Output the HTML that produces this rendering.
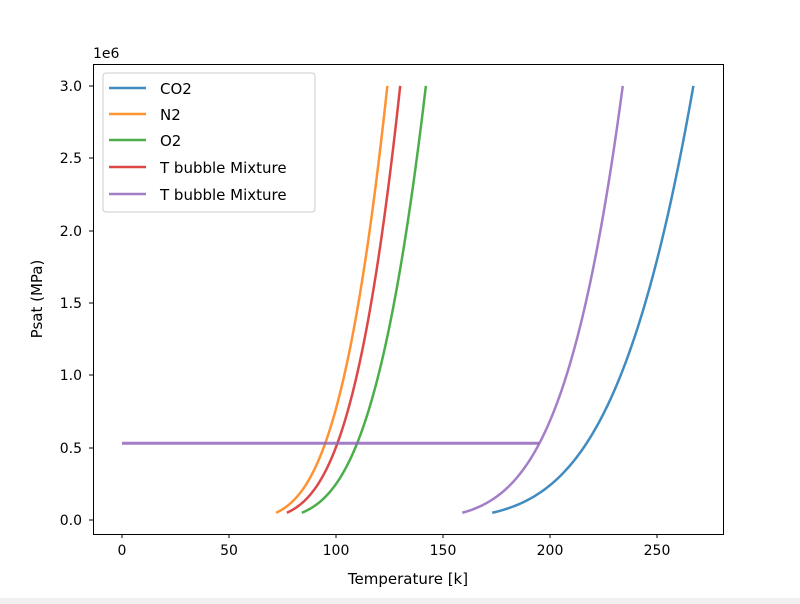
<!DOCTYPE html>
<html><head><meta charset="utf-8"><style>
html,body{margin:0;padding:0;background:#fff;}
svg{display:block;font-family:"DejaVu Sans","Liberation Sans",sans-serif;}
</style></head><body>
<svg id="s" width="800" height="604" viewBox="0 0 800 604" xmlns="http://www.w3.org/2000/svg">
<rect x="0" y="0" width="800" height="604" fill="#fff"/>
<rect x="0" y="598" width="800" height="6" fill="#f0f0f0"/>
<g id="plot"></g>
<rect x="93.5" y="64.5" width="630" height="470" fill="none" stroke="#000" stroke-width="1"/>
<g font-size="14" fill="#000" text-anchor="middle">
<text x="122" y="555">0</text><text x="229" y="555">50</text><text x="336" y="555">100</text>
<text x="443" y="555">150</text><text x="550" y="555">200</text><text x="657" y="555">250</text>
<text x="408" y="584" font-size="15">Temperature [k]</text>
</g>
<g font-size="14" fill="#000" text-anchor="end">
<text x="82" y="525">0.0</text><text x="82" y="453">0.5</text><text x="82" y="380">1.0</text>
<text x="82" y="308">1.5</text><text x="82" y="236">2.0</text><text x="82" y="163">2.5</text><text x="82" y="91">3.0</text>
</g>
<text x="93" y="58" font-size="14">1e6</text>
<text transform="translate(42,299) rotate(-90)" font-size="15" text-anchor="middle">Psat (MPa)</text>
<g stroke="#000" stroke-width="1">
<line x1="122" y1="534" x2="122" y2="538"/><line x1="229" y1="534" x2="229" y2="538"/><line x1="336" y1="534" x2="336" y2="538"/>
<line x1="443" y1="534" x2="443" y2="538"/><line x1="550" y1="534" x2="550" y2="538"/><line x1="657" y1="534" x2="657" y2="538"/>
<line x1="89" y1="520" x2="93" y2="520"/><line x1="89" y1="448" x2="93" y2="448"/><line x1="89" y1="375" x2="93" y2="375"/>
<line x1="89" y1="303" x2="93" y2="303"/><line x1="89" y1="231" x2="93" y2="231"/><line x1="89" y1="158" x2="93" y2="158"/><line x1="89" y1="86" x2="93" y2="86"/>
</g>
<rect x="103" y="73" width="212" height="139" rx="3" fill="#fff" fill-opacity="0.8" stroke="#ccc"/>
<g stroke-width="2.5" opacity="0.85">
<line x1="109" y1="88" x2="146" y2="88" stroke="#1f77b4"/>
<line x1="109" y1="114" x2="146" y2="114" stroke="#ff7f0e"/>
<line x1="109" y1="140" x2="146" y2="140" stroke="#2ca02c"/>
<line x1="109" y1="167" x2="146" y2="167" stroke="#d62728"/>
<line x1="109" y1="194" x2="146" y2="194" stroke="#9467bd"/>
</g>
<g font-size="15" fill="#000">
<text x="160" y="94">CO2</text><text x="160" y="120">N2</text><text x="160" y="146">O2</text>
<text x="160" y="173">T bubble Mixture</text><text x="160" y="200">T bubble Mixture</text>
</g>
</svg>
<script>
(function(){
var X=function(t){return 122+t*2.14;}, Y=function(p){return 520-p*144.7;};
var g=document.getElementById('plot'),ns='http://www.w3.org/2000/svg';
function curve(t1,t2,c){
 var B=Math.log(60)/(1/t1-1/t2),d='';
 for(var i=0;i<=80;i++){var p=0.05*Math.pow(60,i/80);var invT=1/t1-Math.log(p/0.05)/B;var t=1/invT;
 d+=(i?'L':'M')+X(t).toFixed(2)+','+Y(p).toFixed(2);}
 var e=document.createElementNS(ns,'path');e.setAttribute('d',d);e.setAttribute('fill','none');
 e.setAttribute('stroke',c);e.setAttribute('stroke-width','2.5');e.setAttribute('opacity','0.85');g.appendChild(e);}
curve(173,267,'#1f77b4');curve(72,124,'#ff7f0e');curve(84,142,'#2ca02c');curve(77,130,'#d62728');curve(159,234,'#9467bd');
var l=document.createElementNS(ns,'line');l.setAttribute('x1',X(0));l.setAttribute('x2',X(195));
l.setAttribute('y1',Y(0.53));l.setAttribute('y2',Y(0.53));l.setAttribute('stroke','#9467bd');l.setAttribute('stroke-width','3');l.setAttribute('opacity','0.85');g.appendChild(l);
})();
</script>
</body></html>
